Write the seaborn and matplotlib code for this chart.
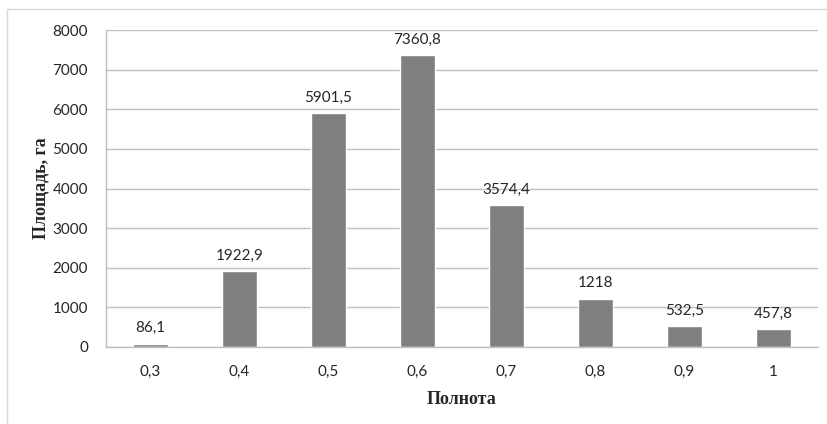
import matplotlib
matplotlib.use("Agg")
import matplotlib.pyplot as plt
import seaborn as sns
import pandas as pd
from matplotlib.patches import Rectangle

# Data
categories = ["0,3", "0,4", "0,5", "0,6", "0,7", "0,8", "0,9", "1"]
areas = [86.1, 1922.9, 5901.5, 7360.8, 3574.4, 1218, 532.5, 457.8]
value_labels = ["86,1", "1922,9", "5901,5", "7360,8", "3574,4", "1218", "532,5", "457,8"]
y_ticks = [0, 1000, 2000, 3000, 4000, 5000, 6000, 7000, 8000]

df = pd.DataFrame({"category": categories, "area": areas})

sns.set_theme(style="white")
plt.rcParams["font.family"] = ["Lato", "DejaVu Sans"]

fig = plt.figure(figsize=(8.28, 4.24), dpi=100)
ax = fig.add_axes([106 / 828, 77 / 424, 712 / 828, 317 / 424])

grid_color = "#bfbfbf"
text_color = "#262626"
sns.barplot(data=df, x="category", y="area", color="#7f7f80", width=0.4,
            saturation=1, ax=ax, zorder=3)

ax.set_ylim(0, 8000)
ax.set_yticks(y_ticks)
ax.set_yticklabels([str(t) for t in y_ticks], fontsize=11, color=text_color)
ax.tick_params(axis="x", labelsize=11, colors=text_color, length=0, pad=13)
ax.tick_params(axis="y", length=6, color=grid_color, width=1, pad=7)
ax.yaxis.grid(True, color=grid_color, linewidth=1)
ax.set_axisbelow(True)

for side in ["top", "right"]:
    ax.spines[side].set_visible(False)
for side in ["left", "bottom"]:
    ax.spines[side].set_color(grid_color)
    ax.spines[side].set_linewidth(1)
ax.spines["bottom"].set_zorder(4)

for i, (val, lab) in enumerate(zip(areas, value_labels)):
    ax.annotate(lab, (i, val), xytext=(0, 6), textcoords="offset points",
                ha="center", va="bottom", fontsize=11, color=text_color)

serif = ["Liberation Serif", "DejaVu Serif"]
ax.set_xlabel("Полнота", fontsize=13, fontweight="bold", family=serif,
              color=text_color, labelpad=8.5)
ax.set_ylabel("Площадь, га", fontsize=13, fontweight="bold", family=serif,
              color=text_color, labelpad=2)

# Outer chart border
fig.patches.append(Rectangle((7 / 828, -0.1), 1.2, (424 - 9) / 424 + 0.1,
                             transform=fig.transFigure, fill=False,
                             edgecolor="#d9d9d9", linewidth=1))

fig.savefig("out.png", dpi=100)
